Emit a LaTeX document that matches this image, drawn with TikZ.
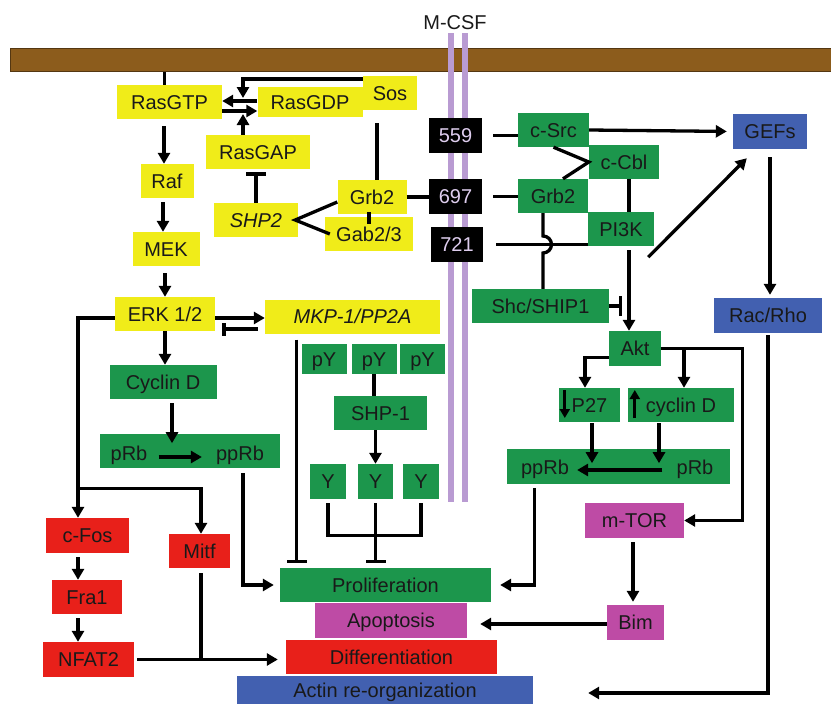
\documentclass[tikz,border=0pt]{standalone}
\usepackage{fontspec}
\setmainfont{Liberation Sans}
\usetikzlibrary{calc}
\usetikzlibrary{arrows.meta}
\definecolor{membc}{RGB}{140,92,28}
\definecolor{rcpc}{RGB}{185,155,210}
\definecolor{rcptext}{RGB}{222,205,238}
\definecolor{ylwc}{RGB}{240,236,25}
\definecolor{grnc}{RGB}{28,150,76}
\definecolor{redc}{RGB}{232,32,26}
\definecolor{magc}{RGB}{190,75,165}
\definecolor{bluc}{RGB}{66,96,176}
\tikzset{
	box/.style={rectangle, inner sep=0pt, minimum height=34, text height=14.3pt, text depth=0pt, font=\fontsize{20}{22}\selectfont, text=black!90},
	txt/.style={inner sep=0pt, text height=14.3pt, text depth=0pt, font=\fontsize{20}{22}\selectfont, text=black!90},
	ylw/.style={box, fill=ylwc},
	grn/.style={box, fill=grnc},
	rd/.style={box, fill=redc},
	mag/.style={box, fill=magc},
	blu/.style={box, fill=bluc},
	rcp/.style={box, fill=black, text=rcptext},
	memb/.style={fill=membc, draw=membc!60!black, line width=1pt},
	rcpt/.style={draw=rcpc, line width=6pt},
	lnk/.style={line width=3.3pt},
	act/.style={lnk, -{Triangle[length=11pt, width=12pt]}},
	small/.style={lnk, -{Triangle[length=9pt, width=10pt]}},
	inh/.style={lnk, -{Bar[width=20pt]}},
}
\newcommand{\gene}[6] % style, name, x, y, width, label
{
	\node[#1, minimum width=#5] (#2) at (#3, #4) {#6};
}
\begin{document}
\begin{tikzpicture}[x=1pt, y=-1pt]
	\useasboundingbox (0, 0) rectangle (831, 704);
	% membrane and M-CSF receptor
	\node[memb, minimum width=821, minimum height=23, inner sep=0pt] (mem) at (420.5, 59.5) {};
	\node[txt] (mcsf) at (455, 22) {M-CSF};
	\draw[rcpt] (451, 33) -- (451, 502);
	\draw[rcpt] (465, 33) -- (465, 502);
	\gene{rcp, minimum height=35}{rsix}{455.5}{135.5}{53}{559}
	\gene{rcp, minimum height=35}{rnine}{455.5}{196.5}{53}{697}
	\gene{rcp, minimum height=35}{rtwo}{457}{244.5}{52}{721}
	
	% Ras / MAPK
	\gene{ylw}{rasgtp}{169.5}{102}{105}{RasGTP}
	\gene{ylw, minimum height=30}{rasgdp}{310}{102}{105}{RasGDP}
	\gene{ylw}{sos}{390}{93}{54}{Sos}
	\gene{ylw}{rasgap}{258}{152}{104}{RasGAP}
	\gene{ylw}{raf}{167}{181}{53}{Raf}
	\gene{ylw}{shptwo}{256}{220}{84}{\textit{SHP2}}
	\gene{ylw}{grbY}{372}{197}{69}{Grb2}
	\gene{ylw}{gab}{369}{234}{88}{Gab2/3}
	\gene{ylw}{mek}{166}{249}{67}{MEK}
	\gene{ylw}{erk}{165}{314}{100}{ERK 1/2}
	\gene{ylw}{mkp}{352.5}{316.5}{175}{\textit{MKP-1/PP2A}}
	
	\gene{grn}{cycD}{163}{382}{107}{Cyclin D}
	\gene{grn}{prbL}{190}{451}{180}{}
	\node[txt] (prbLa) at (129, 453) {pRb};
	\node[txt] (pprbLa) at (240, 453) {ppRb};
	
	\gene{grn, minimum height=30}{pyA}{324}{359}{45}{pY}
	\gene{grn, minimum height=30}{pyB}{374}{359}{45}{pY}
	\gene{grn, minimum height=30}{pyC}{422.5}{359}{45}{pY}
	\gene{grn}{shpone}{380.5}{413}{93}{SHP-1}
	\gene{grn, minimum height=35}{yA}{328}{481.5}{36}{Y}
	\gene{grn, minimum height=35}{yB}{375.5}{481.5}{35}{Y}
	\gene{grn, minimum height=35}{yC}{421}{481.5}{36}{Y}
	
	\gene{rd, minimum height=35}{cfos}{87.5}{535.5}{83}{c-Fos}
	\gene{rd}{fra}{87}{597}{70}{Fra1}
	\gene{rd, minimum height=35}{nfat}{88.5}{659.5}{91}{NFAT2}
	\gene{rd}{mitf}{199.5}{551}{61}{Mitf}
	
	% outcomes
	\gene{grn}{prolif}{385.5}{585}{211}{Proliferation}
	\gene{mag, minimum height=35}{apop}{391}{620.5}{152}{Apoptosis}
	\gene{rd}{diff}{391.5}{657}{211}{Differentiation}
	\gene{blu, minimum height=28}{actin}{385}{690}{296}{Actin re-organization}
	
	% PI3K / Akt side
	\gene{grn}{csrc}{553.5}{130}{71}{c-Src}
	\gene{grn}{ccbl}{624}{162}{70}{c-Cbl}
	\gene{grn}{grbG}{553}{196}{70}{Grb2}
	\gene{grn}{pik}{621}{229}{66}{PI3K}
	\gene{grn}{shc}{540.5}{306}{137}{Shc/SHIP1}
	\gene{grn, minimum height=35}{akt}{635}{348.5}{52}{Akt}
	\gene{grn}{ptwo}{589.5}{405}{61}{P27}
	\gene{grn}{cycR}{681}{405}{106}{cyclin D}
	\gene{grn, minimum height=35}{prbR}{618.5}{466.5}{223}{}
	\node[txt] (pprbRa) at (545, 467) {ppRb};
	\node[txt] (prbRa) at (695, 467) {pRb};
	\gene{mag, minimum height=35}{mtor}{634.5}{520.5}{99}{m-TOR}
	\gene{mag, minimum height=35}{bim}{635.5}{622.5}{57}{Bim}
	\gene{blu, minimum height=35}{gefs}{770}{131.5}{74}{GEFs}
	\gene{blu, minimum height=35}{rac}{768}{315.5}{108}{Rac/Rho}
	
	% Ras cycle
	\coordinate (xch) at (243, 106);
	\draw[lnk] ([xshift=-5pt]rasgtp.north) -- ([xshift=-5pt]rasgtp.north |- mem.south);
	\draw[act] ([yshift=14pt]sos.west) -| ([yshift=8pt]xch);
	\draw[act] (rasgap.north -| xch) -- ([yshift=-8pt]xch);
	\draw[act] ([yshift=1pt]rasgdp.west) -- ([yshift=1pt]rasgdp.west -| rasgtp.east);
	\draw[act] ([yshift=-9pt]rasgtp.east) -- ([yshift=-9pt]rasgtp.east -| rasgdp.west);
	\draw[inh, shorten >=3pt] (shptwo.north) -- (rasgap.south -| shptwo.north);
	\draw[lnk, shorten >=13pt] ([xshift=5pt]grbY.north) -- ([xshift=5pt]grbY.north |- sos.south);
	\draw[lnk] ([yshift=-5pt]grbY.west) -- ([xshift=-3pt]shptwo.east) -- ([xshift=5pt]gab.west);
	\draw[lnk] ([yshift=2pt]grbY.south -| gab.north) -- ([yshift=-7pt]gab.north);
	\draw[lnk] (grbY.east) -- (grbY.east -| rnine.west);
	
	% MAPK cascade
	\draw[act, shorten <=7pt] ([xshift=-3pt]raf.north |- rasgtp.south) -- ([xshift=-3pt]raf.north);
	\draw[act, shorten <=4pt] ([xshift=-3pt]mek.north |- raf.south) -- ([xshift=-3pt]mek.north);
	\draw[act, shorten <=7pt] (erk.north |- mek.south) -- (erk.north);
	\draw[act] ([yshift=-4pt]erk.east) -- ([yshift=-4pt]erk.east -| mkp.west);
	\draw[lnk, -{Bar[width=13pt]}, shorten <=7pt, shorten >=7pt] ([yshift=-12.5pt]mkp.west) -- ([yshift=-12.5pt]mkp.west -| erk.east);
	\draw[act] (erk.south) -- (erk.south |- cycD.north);
	\draw[act, shorten <=4pt] ([xshift=9pt]cycD.south) -- ++(0, 44);
	\draw[act] ($(prbLa.east)+(11, 4)$) -- ($(pprbLa.west)+(-14, 4)$);
	\draw[act, shorten <=5pt, shorten >=6pt] ($(prbL.south)+(53, 0)$) |- (prolif.west);
	\draw[inh, shorten >=5pt] ([xshift=32pt, yshift=-6pt]mkp.south west) -- ([xshift=32pt]mkp.south west |- prolif.north);
	
	% ERK to c-Fos / Mitf
	\draw[act] ([yshift=-4pt]erk.west) -| ([xshift=-9.5pt]cfos.north);
	\draw[act] ($(cfos.north)+(-9.5, -29)$) -| ([xshift=1.5pt]mitf.north);
	\draw[act, shorten <=4pt] ([xshift=-9.5pt]cfos.south) -- ([xshift=-9.5pt]cfos.south |- fra.north);
	\draw[act, shorten <=4pt] ([xshift=-9pt]fra.south) -- ([xshift=-9pt]fra.south |- nfat.north);
	\draw[act, shorten <=3pt, shorten >=8pt] (nfat.east) -- (nfat.east -| diff.west);
	\draw[lnk, shorten <=5pt] ([xshift=1.5pt]mitf.south) -- ([xshift=1.5pt]mitf.south |- nfat.east);
	
	% SHP-1
	\draw[lnk] (pyB.south) -- (pyB.south |- shpone.north);
	\draw[act] (yB.north |- shpone.south) -- (yB.north);
	\draw[lnk] ([yshift=-4pt]yA.south) -- ++(0, 32) -| ([yshift=-4pt]yC.south);
	\draw[inh, shorten >=5pt] ([yshift=-4pt]yB.south) -- (yB.south |- prolif.north);
	
	% receptor sites
	\draw[lnk, shorten <=11pt] (rsix.east) -- (rsix.east -| csrc.west);
	\draw[lnk, shorten <=11pt] (rnine.east) -- (rnine.east -| grbG.west);
	\draw[lnk, shorten <=13pt] (rtwo.east) -- (rtwo.east -| pik.west);
	\coordinate (hop) at ([xshift=-10pt]grbG.south |- rtwo.east);
	\draw[lnk] ([xshift=-10pt]grbG.south) -- ([yshift=8.5pt]hop) arc[start angle=90, end angle=-90, radius=8.5pt] -- (hop |- shc.north);
	\draw[lnk] (csrc.south) -- (ccbl.west) -- ([xshift=10pt]grbG.north);
	\draw[lnk] ([xshift=5pt]ccbl.south) -- ([xshift=5pt]ccbl.south |- pik.north);
	\draw[act, shorten <=4pt] ([xshift=-6pt]akt.north |- pik.south) -- ([xshift=-6pt]akt.north);
	\draw[inh, shorten >=7pt] (shc.east) -- ([xshift=-6pt]akt.north |- shc.east);
	\draw[act, shorten >=6pt] (csrc.east) -- (gefs.west);
	\draw[act] ($(pik.south east)+(-6, 11)$) -- ($(gefs.south west)+(14, 9)$);
	\draw[act, shorten <=8pt, shorten >=3pt] (gefs.south) -- (gefs.south |- rac.north);
	\coordinate (actend) at ($(actin.east)+(55, 3)$);
	\draw[act, shorten <=2pt] (rac.south) |- (actend);
	
	% Akt targets
	\draw[act] ([yshift=-9pt]akt.west) -| ([xshift=-4.5pt]ptwo.north);
	\draw[act] (akt.east) -- ++(81, 0) |- (mtor.east);
	\draw[act] ([xshift=3pt]cycR.north |- akt.east) -- ([xshift=3pt]cycR.north);
	\draw[small] ($(ptwo.west)+(6, -15)$) -- ($(ptwo.west)+(6, 13)$);
	\draw[small] ($(cycR.west)+(7, 13)$) -- ($(cycR.west)+(7, -15)$);
	\draw[act, shorten <=1pt] ([xshift=2.5pt]ptwo.south) -- ++(0, 41);
	\draw[act, shorten <=1pt] ([xshift=-22pt]cycR.south) -- ++(0, 41);
	\draw[act] ($(prbRa.west)+(-14, 3)$) -- ($(pprbRa.east)+(8, 3)$);
	\draw[act, shorten <=4pt, shorten >=9pt] ($(prbR.south)+(-84, 0)$) |- (prolif.east);
	\draw[act, shorten <=4pt, shorten >=3pt] ([xshift=-1.5pt]mtor.south) -- ([xshift=-1.5pt]mtor.south |- bim.north);
	\draw[act, shorten >=13pt] ([yshift=-1.5pt]bim.west) -- ([yshift=-1.5pt]bim.west -| apop.east);
\end{tikzpicture}
\end{document}
